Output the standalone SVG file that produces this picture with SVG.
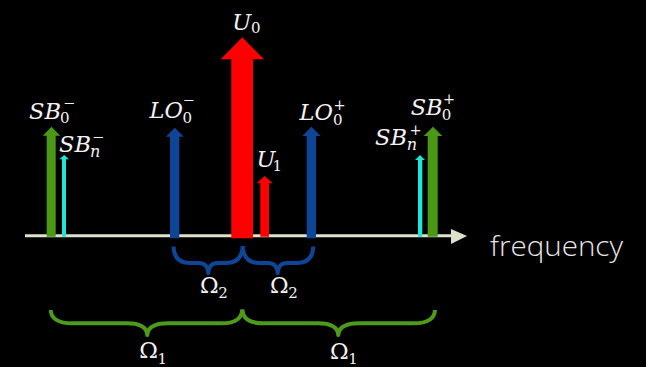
<svg xmlns="http://www.w3.org/2000/svg" width="646" height="367" viewBox="0 0 646 367">
<style>
text{font-family:"DejaVu Serif","Liberation Serif",serif;fill:#f2f2f2}
.m{font-style:italic;font-size:22.5px}
.u{font-size:22.5px}
.s{font-size:15px;font-style:normal}
.si{font-style:italic;font-size:16px}
.p{font-size:14.5px;font-style:normal}
.g{fill:#4a9813}
.c{fill:#1fe6d6}
.b{fill:#0e4597}
.r{fill:#ff0000}
.bb{fill:none;stroke:#0e4597;stroke-width:4;stroke-linejoin:round}
.gb{fill:none;stroke:#4e9a1a;stroke-width:4;stroke-linejoin:round}
.f{font-family:"Open Sans","Liberation Sans",sans-serif;font-weight:300;font-size:28px;fill:#e6e6e6}
</style>
<rect width="646" height="367" fill="#000"/>
<g id="connectors">
<g id="axis">
<line x1="25" y1="235.8" x2="452" y2="235.8" stroke="#dde2cc" stroke-width="3"/>
<polygon points="451,229 467,236 451,244" fill="#dde2cc"/>
</g>
<g id="brace-omega2-left"><path class="bb" d="M173.5,246.5 Q174,263 190,263 L199,263 Q207.5,263 208.3,273 Q209.1,263 217.5,263 L226,263 Q242,263 242.7,246"/></g>
<g id="brace-omega2-right"><path class="bb" d="M242.7,246 Q243.5,263 259,263 L268,263 Q277,263 277.7,273 Q278.4,263 287,263 L297,263 Q312.5,263 313.3,246.5"/></g>
<g id="brace-omega1-left"><path class="gb" d="M50.7,310 Q51.5,323.3 72,323.3 L127,323.3 Q146.5,323.3 147.3,335 Q148.1,323.3 168,323.3 L222,323.3 Q241.5,323.3 242.3,309.5"/></g>
<g id="brace-omega1-right"><path class="gb" d="M242.3,309.5 Q243.1,323.3 263,323.3 L318,323.3 Q337.5,323.3 338.3,335 Q339.1,323.3 359,323.3 L414,323.3 Q434.2,323.3 435,310"/></g>
</g>
<g id="SB0-minus">
<polygon class="g" points="46.7,236.7 46.7,135.7 42.7,135.7 51.5,126.7 60.3,135.7 55.7,135.7 55.7,236.7"/>
<text class="m" x="29" y="119">SB<tspan class="s" x="60" y="123.3">0</tspan><tspan class="p" x="63" y="108">−</tspan></text>
</g>
<g id="SBn-minus">
<polygon class="c" points="62,236.7 62,159.3 59.3,159.3 64.2,155 69,159.3 66,159.3 66,236.7"/>
<text class="m" x="59" y="151.7">SB<tspan class="si" x="90" y="157.3">n</tspan><tspan class="p" x="92" y="142">−</tspan></text>
</g>
<g id="LO0-minus">
<polygon class="b" points="170,238.3 170,136.7 166,136.7 174.8,127.7 183.7,136.7 179.3,136.7 179.3,238.3"/>
<text class="m" x="149.5" y="118.3">LO<tspan class="s" x="182.5" y="123.3">0</tspan><tspan class="p" x="182.5" y="104.6">−</tspan></text>
</g>
<g id="U0">
<polygon class="r" points="231.3,238.3 231.3,59.3 220.7,59.3 242.3,37.3 264,59.3 253,59.3 253,238.3"/>
<text class="m" x="232.2" y="30">U<tspan class="s" x="251" y="33.3">0</tspan></text>
</g>
<g id="U1">
<polygon class="r" points="260.3,236.7 260.3,183.3 256.7,183.3 264.7,176 272.7,183.3 269,183.3 269,236.7"/>
<text class="m" x="256.5" y="166.7">U<tspan class="s" x="272.5" y="170.7">1</tspan></text>
</g>
<g id="LO0-plus">
<polygon class="b" points="306.7,238.3 306.7,136 302.3,136 311.5,126.7 320.7,136 316,136 316,238.3"/>
<text class="m" x="299.5" y="120">LO<tspan class="s" x="333" y="125">0</tspan><tspan class="p" x="333.5" y="109.6">+</tspan></text>
</g>
<g id="SBn-plus">
<polygon class="c" points="418,236.7 418,160 415,160 420,155 425,160 422.3,160 422.3,236.7"/>
<text class="m" x="375" y="145">SB<tspan class="si" x="406.7" y="150">n</tspan><tspan class="p" x="409.5" y="134.6">+</tspan></text>
</g>
<g id="SB0-plus">
<polygon class="g" points="427.7,236.7 427.7,136 423.7,136 433,126.7 442.3,136 437.7,136 437.7,236.7"/>
<text class="m" x="410.7" y="115">SB<tspan class="s" x="441.7" y="120">0</tspan><tspan class="p" x="443" y="104">+</tspan></text>
</g>
<g id="label-omega2-left"><text class="u" x="200" y="293.3">Ω<tspan class="s" x="218.3" y="298.3">2</tspan></text></g>
<g id="label-omega2-right"><text class="u" x="270" y="293.3">Ω<tspan class="s" x="288.3" y="298.3">2</tspan></text></g>
<g id="label-omega1-left"><text class="u" x="139.3" y="358.3">Ω<tspan class="s" x="157.6" y="363.5">1</tspan></text></g>
<g id="label-omega1-right"><text class="u" x="330" y="359">Ω<tspan class="s" x="348.3" y="363.8">1</tspan></text></g>
<g id="label-frequency"><text class="f" x="490" y="256" textLength="133" lengthAdjust="spacingAndGlyphs">frequency</text></g>
</svg>
